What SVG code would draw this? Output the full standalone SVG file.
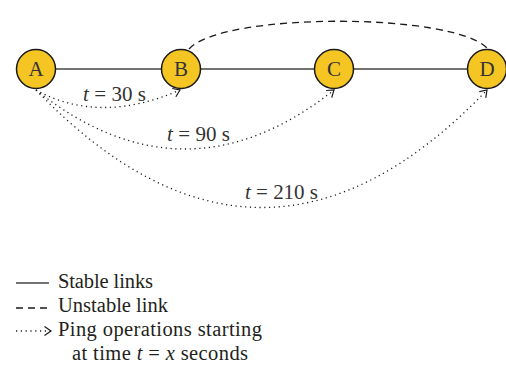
<svg xmlns="http://www.w3.org/2000/svg" width="506" height="372" viewBox="0 0 506 372">
  <defs>
    <marker id="chevron" markerUnits="userSpaceOnUse" markerWidth="14" markerHeight="14" viewBox="-10 -7 14 14" refX="0" refY="0" orient="auto">
      <path d="M-6.5,-4.5 L0,0 L-6.5,4.5" fill="none" stroke="#1a1a1a" stroke-width="1.2"/>
    </marker>
  </defs>
  <style>
    .node circle { fill: #f5c623; stroke: #1a1a1a; stroke-width: 1.5; }
    .node text { font-family: "Liberation Serif", serif; font-size: 21px; fill: #333; text-anchor: middle; }
    .stable { stroke: #444; stroke-width: 1.6; fill: none; }
    .unstable { stroke: #1a1a1a; stroke-width: 1.3; fill: none; stroke-dasharray: 7 5; }
    .ping { stroke: #1a1a1a; stroke-width: 1.3; fill: none; stroke-dasharray: 1.2 3.6; marker-end: url(#chevron); }
    .label { font-family: "Liberation Serif", serif; font-size: 21px; fill: #333; }
    .legend { font-family: "Liberation Serif", serif; font-size: 20.5px; fill: #231f20; }
    .it { font-style: italic; }
  </style>

  <rect width="506" height="372" fill="#ffffff"/>

  <!-- links between nodes -->
  <g id="connectors">
    <line class="stable" x1="56" y1="69" x2="161" y2="69"/>
    <line class="stable" x1="201" y1="69" x2="314" y2="69"/>
    <line class="stable" x1="354" y1="69" x2="467" y2="69"/>
    <path class="unstable" d="M189,49 C222,12 455,12 488,49"/>
    <path class="ping" d="M36,90 Q100,125 180,90"/>
    <path class="ping" d="M36,90 Q185,208 334,90"/>
    <path class="ping" d="M36,90 Q262,325 487,90"/>
  </g>

  <!-- ping start times -->
  <g id="ping-labels">
    <text class="label" x="83" y="101" textLength="63" lengthAdjust="spacing"><tspan class="it">t</tspan> = 30 s</text>
    <text class="label" x="167" y="141" textLength="63" lengthAdjust="spacing"><tspan class="it">t</tspan> = 90 s</text>
    <text class="label" x="245" y="199" textLength="73" lengthAdjust="spacing"><tspan class="it">t</tspan> = 210 s</text>
  </g>

  <g id="node-A" class="node">
    <circle cx="36" cy="69" r="19.5"/>
    <text x="36" y="76">A</text>
  </g>
  <g id="node-B" class="node">
    <circle cx="181" cy="69" r="19.5"/>
    <text x="181" y="76">B</text>
  </g>
  <g id="node-C" class="node">
    <circle cx="334" cy="69" r="19.5"/>
    <text x="334" y="76">C</text>
  </g>
  <g id="node-D" class="node">
    <circle cx="487" cy="69" r="19.5"/>
    <text x="487" y="76">D</text>
  </g>

  <!-- legend -->
  <g id="legend">
    <line class="stable" x1="16" y1="283" x2="49" y2="283" stroke="#1a1a1a"/>
    <text class="legend" x="58" y="288" textLength="95" lengthAdjust="spacing">Stable links</text>
    <line class="unstable" x1="16" y1="308" x2="49" y2="308"/>
    <text class="legend" x="58" y="312" textLength="110" lengthAdjust="spacing">Unstable link</text>
    <line class="ping" x1="16" y1="331" x2="51" y2="331"/>
    <text class="legend" x="58" y="336" textLength="204" lengthAdjust="spacing">Ping operations starting</text>
    <text class="legend" x="72" y="360" textLength="176" lengthAdjust="spacing">at time <tspan class="it">t</tspan> = <tspan class="it">x</tspan> seconds</text>
  </g>
</svg>
